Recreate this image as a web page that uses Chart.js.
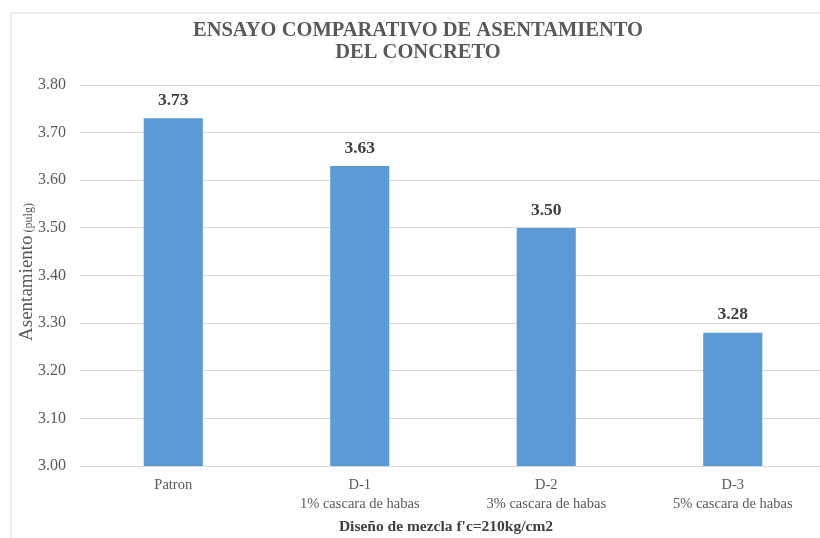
<html lang="es">
  <head>
    <meta charset="utf-8">
    <title>Ensayo comparativo de asentamiento del concreto</title>
    <style>
      html, body { margin: 0; padding: 0; background: white; overflow: hidden; }
      .chartBox {
        position: relative;
        width: 826px;
        height: 538px;
      }
      .frame {
        position: absolute;
        left: 10px;
        top: 12px;
        width: 830px;
        height: 540px;
        border-left: 2px solid #ececec;
        border-top: 2px solid #ececec;
        pointer-events: none;
      }
    </style>
  </head>
  <body>
    <div class="chartBox">
      <canvas id="myChart" width="826" height="538"></canvas>
      <div class="frame"></div>
    </div>

    <script type="text/javascript" src="https://cdn.jsdelivr.net/npm/chart.js/dist/chart.umd.min.js"></script>
    <script>
    // setup
    const categorias = [
      'Patron',
      ['D-1', '1% cascara de habas'],
      ['D-2', '3% cascara de habas'],
      ['D-3', '5% cascara de habas']
    ];
    const asentamiento = [3.73, 3.63, 3.50, 3.28];
    const ejeMin = 3.00;
    const ejeMax = 3.80;
    const ejePaso = 0.10;

    const serif = '"Liberation Serif", "Times New Roman", serif';
    const gris = '#595959';

    const data = {
      labels: categorias,
      datasets: [{
        label: 'Asentamiento',
        data: asentamiento,
        backgroundColor: '#5b9bd5',
        categoryPercentage: 1,
        barPercentage: 0.317
      }]
    };

    // titles and value labels
    const textos = {
      id: 'textos',
      afterDatasetsDraw(chart) {
        const {ctx} = chart;
        ctx.save();

        // value above each bar
        ctx.fillStyle = '#404040';
        ctx.font = 'bold 17.5px ' + serif;
        ctx.textAlign = 'center';
        ctx.textBaseline = 'bottom';
        chart.getDatasetMeta(0).data.forEach((bar, i) => {
          ctx.fillText(asentamiento[i].toFixed(2), bar.x, bar.y - 9);
        });

        // chart title
        ctx.fillStyle = gris;
        ctx.font = 'bold 20.5px ' + serif;
        ctx.textBaseline = 'middle';
        ctx.fillText('ENSAYO COMPARATIVO DE ASENTAMIENTO', 418, 31);
        ctx.fillText('DEL CONCRETO', 418, 53);

        // x axis title
        ctx.fillStyle = '#404040';
        ctx.font = 'bold 15.5px ' + serif;
        ctx.fillText('Diseño de mezcla f\'c=210kg/cm2', 446, 527);

        // y axis title, unit in a smaller size
        ctx.translate(26, 272);
        ctx.rotate(-Math.PI / 2);
        ctx.fillStyle = gris;
        const t1 = 'Asentamiento';
        const t2 = ' (pulg)';
        ctx.font = '19px ' + serif;
        const w1 = ctx.measureText(t1).width;
        ctx.font = '12px ' + serif;
        const w2 = ctx.measureText(t2).width;
        const x0 = -(w1 + w2) / 2;
        ctx.textAlign = 'left';
        ctx.textBaseline = 'alphabetic';
        ctx.font = '19px ' + serif;
        ctx.fillText(t1, x0, 6);
        ctx.font = '12px ' + serif;
        ctx.fillText(t2, x0 + w1, 6);
        ctx.restore();
      }
    };

    // config
    const config = {
      type: 'bar',
      data,
      options: {
        responsive: false,
        animation: false,
        layout: { padding: { top: 85, left: 0, right: 0, bottom: 0 } },
        plugins: {
          legend: { display: false },
          title: { display: false },
          tooltip: { enabled: false }
        },
        scales: {
          x: {
            grid: { display: false, drawTicks: false },
            border: { display: false },
            ticks: {
              color: gris,
              font: { family: serif, size: 14.5, lineHeight: 1.35 },
              padding: 9,
              maxRotation: 0
            },
            afterFit(scale) { scale.height = 72; }
          },
          y: {
            min: ejeMin,
            max: ejeMax,
            grid: { color: '#d9d9d9', lineWidth: 1, drawTicks: false },
            border: { display: false },
            ticks: {
              stepSize: ejePaso,
              color: gris,
              font: { family: serif, size: 16 },
              padding: 14,
              callback: (v) => v.toFixed(2)
            },
            afterFit(scale) { scale.width = 80; }
          }
        }
      },
      plugins: [textos]
    };

    // render init block
    const myChart = new Chart(
      document.getElementById('myChart'),
      config
    );
    </script>
  </body>
</html>
